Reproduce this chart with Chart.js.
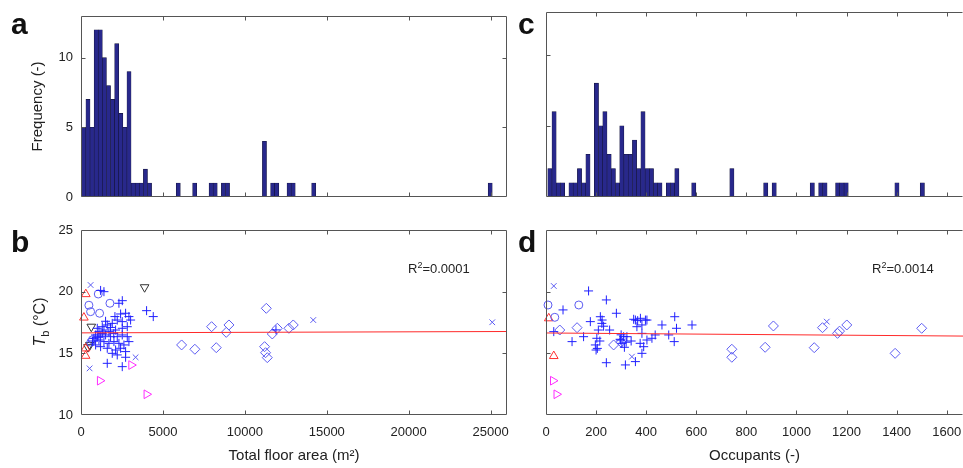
<!DOCTYPE html>
<html>
<head>
<meta charset="utf-8">
<script src="https://cdn.jsdelivr.net/npm/chart.js@4.4.1/dist/chart.umd.min.js"></script>
<style>
  body { margin: 0; background: #fff; }
  #wrap { position: relative; width: 963px; height: 468px; overflow: hidden;
          font-family: "Liberation Sans", Arial, sans-serif; color: #222; }
  #wrap canvas { position: absolute; left: 0; top: 0; }
  .letter { position: absolute; font-weight: bold; font-size: 30px; line-height: 30px; color: #111; }
  .r2 { position: absolute; font-size: 13px; line-height: 14px; white-space: nowrap; }
  .r2 sup { font-size: 9px; line-height: 0; vertical-align: 5px; }
  #tb { position: absolute; left: 40px; top: 322px; font-size: 16px; white-space: nowrap;
        transform: translate(-50%, -50%) rotate(-90deg); }
  #tb sub { font-size: 11px; line-height: 0; }
</style>
</head>
<body>
<div id="wrap">
  <canvas id="histFloor" width="963" height="468"></canvas>
  <canvas id="histOcc" width="963" height="468"></canvas>
  <canvas id="scatFloor" width="963" height="468"></canvas>
  <canvas id="scatOcc" width="963" height="468"></canvas>
  <div class="letter" style="left:11px;top:9px">a</div>
  <div class="letter" style="left:11px;top:227px">b</div>
  <div class="letter" style="left:518px;top:9px">c</div>
  <div class="letter" style="left:518px;top:227px">d</div>
  <div id="tb"><i>T</i><sub>b</sub> (°C)</div>
  <div class="r2" style="left:408px;top:262px">R<sup>2</sup>=0.0001</div>
  <div class="r2" style="left:872px;top:262px">R<sup>2</sup>=0.0014</div>
</div>
<script>
// tick labels
const floorTicks = [0, 5000, 10000, 15000, 20000, 25000];
const occTicks = [0, 200, 400, 600, 800, 1000, 1200, 1400, 1600];
const freqTicks = [0, 5, 10];
const tempTicks = [10, 15, 20, 25];

// histogram a: total floor area, 100 bins
const floorBinStart = 50;
const floorBinWidth = 250.5;
const floorCounts = [
  5, 7, 5, 12, 12, 10, 8, 7, 11, 6,
  5, 9, 1, 1, 1, 2, 1, 0, 0, 0,
  0, 0, 0, 1, 0, 0, 0, 1, 0, 0,
  0, 1, 1, 0, 1, 1, 0, 0, 0, 0,
  0, 0, 0, 0, 4, 0, 1, 1, 0, 0,
  1, 1, 0, 0, 0, 0, 1, 0, 0, 0,
  0, 0, 0, 0, 0, 0, 0, 0, 0, 0,
  0, 0, 0, 0, 0, 0, 0, 0, 0, 0,
  0, 0, 0, 0, 0, 0, 0, 0, 0, 0,
  0, 0, 0, 0, 0, 0, 0, 0, 0, 1
];

// histogram c: occupants
const occBinStart = 7;
const occBinWidth = 16.9;
const occCounts = [
  2, 6, 1, 1, 0, 1, 1, 2, 1, 3,
  0, 8, 5, 6, 3, 2, 1, 5, 3, 3,
  4, 2, 6, 2, 2, 1, 1, 0, 1, 1,
  2, 0, 0, 0, 1, 0, 0, 0, 0, 0,
  0, 0, 0, 2, 0, 0, 0, 0, 0, 0,
  0, 1, 0, 1, 0, 0, 0, 0, 0, 0,
  0, 0, 1, 0, 1, 1, 0, 0, 1, 1,
  1, 0, 0, 0, 0, 0, 0, 0, 0, 0,
  0, 0, 1, 0, 0, 0, 0, 0, 1
];

// b: floor area (m2) vs Tb (C), by marker
const floorPlus = [
  [1400, 20.0], [1196, 20.1], [2315, 19.06], [2520, 19.27], [4003, 18.46], [4410, 17.98],
  [2071, 17.98], [2417, 18.19], [2722, 18.25], [2925, 17.98], [2213, 17.7], [2518, 17.57],
  [1908, 17.43], [1603, 17.3], [1298, 17.16], [993, 17.03], [1094, 16.76], [1400, 16.89],
  [1705, 16.76], [2112, 16.89], [2518, 17.03], [2824, 17.16], [3027, 17.7], [891, 16.49],
  [1196, 16.35], [1501, 16.49], [1806, 16.35], [2213, 16.35], [2518, 16.49], [2824, 16.35],
  [2925, 15.95], [1094, 16.08], [1400, 15.95], [1705, 15.81], [2010, 15.95], [2315, 15.81],
  [2620, 15.68], [1196, 15.54], [1603, 15.41], [2112, 15.27], [2417, 15.41], [2722, 15.14],
  [891, 15.68], [789, 16.22], [1908, 15.0], [2213, 14.87], [1603, 14.19], [2518, 13.92],
  [2722, 14.68], [1300, 16.6], [1800, 17.1], [1000, 16.3], [1500, 17.6], [2000, 16.6],
  [700, 16.0], [11900, 16.9]
];
const floorCircle = [[482, 18.9], [1054, 19.81], [1766, 19.06], [586, 18.38], [1135, 18.25], [700, 16.1], [600, 15.9]];
const floorCross = [[586, 20.54], [525, 13.78], [3332, 14.68], [14175, 17.7], [25100, 17.52]];
const floorDiamond = [
  [6140, 15.68], [6950, 15.33], [7970, 17.16], [8255, 15.46], [8865, 16.7], [9030, 17.3],
  [11310, 18.65], [11205, 15.54], [11265, 15.05], [11370, 14.65], [11675, 16.57],
  [11980, 17.03], [12690, 17.03], [12955, 17.3]
];
const floorTriUp = [[293, 19.8], [177, 17.9], [281, 15.4], [281, 14.8]];
const floorTriDown = [[3882, 20.36], [628, 17.16], [546, 15.68], [424, 15.5]];
const floorTriRight = [[1155, 12.78], [3070, 14.05], [4003, 11.68]];
const floorFit = [[0, 16.66], [26000, 16.77]];

// d: occupants vs Tb (C)
const occPlus = [
  [170, 20.06], [241, 19.33], [281, 18.25], [68, 18.52], [31, 16.76], [104, 15.95],
  [177, 17.57], [217, 17.97], [223, 17.43], [209, 16.89], [203, 16.22], [197, 15.68],
  [200, 15.27], [241, 14.24], [254, 16.89], [297, 16.08], [303, 15.81], [310, 16.35],
  [317, 14.06], [357, 14.33], [357, 17.7], [377, 17.84], [397, 17.7], [363, 17.16],
  [383, 16.62], [390, 15.54], [383, 15.0], [403, 16.08], [423, 16.22], [436, 16.49],
  [463, 17.3], [490, 16.49], [514, 17.97], [521, 17.03], [512, 15.95], [583, 17.3],
  [150, 16.35], [224, 17.7], [296, 16.14], [313, 15.49], [350, 17.76], [366, 17.65],
  [383, 17.3], [403, 17.7], [376, 15.81], [323, 16.35], [215, 16.0], [230, 17.2],
  [205, 15.4], [320, 15.9], [300, 16.5], [340, 16.0]
];
const occCircle = [[8, 18.92], [131, 18.92], [35, 17.92]];
const occCross = [[31, 20.46], [343, 14.73], [1121, 17.57]];
const occDiamond = [
  [55, 16.89], [124, 17.08], [270, 15.68], [300, 15.9], [742, 15.33], [742, 14.68],
  [875, 15.49], [908, 17.22], [1071, 15.46], [1104, 17.08], [1164, 16.62], [1172, 16.8],
  [1201, 17.3], [1394, 15.0], [1500, 17.03]
];
const occTriUp = [[11, 17.84], [31, 14.78]];
const occTriRight = [[28, 12.78], [42, 11.68]];
const occFit = [[0, 16.65], [1665, 16.4]];

Chart.defaults.font.family = '"Liberation Sans", Arial, sans-serif';
Chart.defaults.font.size = 13;
Chart.defaults.color = '#222';

const barFill = '#28288c';
const barEdge = '#14143c';
const plusBlue = '#2020ff';
const lightBlue = '#5c5cf2';

// box round the axes with inward tick marks, like the original figure
const frame = {
  id: 'frame',
  afterDatasetsDraw(chart, args, opts) {
    const { ctx, chartArea: a, scales } = chart;
    const L = Math.round(a.left) + 0.5, R = Math.round(a.right) - 0.5;
    const T = Math.round(a.top) + 0.5, B = Math.round(a.bottom) - 0.5;
    const len = 4;
    ctx.save();
    ctx.strokeStyle = '#555';
    ctx.lineWidth = 1;
    ctx.beginPath();
    ctx.moveTo(R, T); ctx.lineTo(L, T); ctx.lineTo(L, B); ctx.lineTo(R, B);
    if (!opts.noRight) { ctx.moveTo(R, T); ctx.lineTo(R, B); }
    scales.x.ticks.forEach(t => {
      const p = Math.round(scales.x.getPixelForValue(t.value)) + 0.5;
      if (p < L + 2 || p > R - 2) return;
      ctx.moveTo(p, B); ctx.lineTo(p, B - len);
      ctx.moveTo(p, T); ctx.lineTo(p, T + len);
    });
    scales.y.ticks.forEach(t => {
      const p = Math.round(scales.y.getPixelForValue(t.value)) + 0.5;
      if (p < T + 2 || p > B - 2) return;
      ctx.moveTo(L, p); ctx.lineTo(L + len, p);
      if (!opts.noRight) { ctx.moveTo(R, p); ctx.lineTo(R - len, p); }
    });
    ctx.stroke();
    ctx.restore();
  }
};

const noGrid = { display: false, drawTicks: false };
const noBorder = { display: false };
const plain = v => String(v);

function fixedTicks(list) {
  return s => { s.ticks = list.map(v => ({ value: v })); };
}

// x axis of fixed height that does not shrink the plot for its end labels
function xHeight(h) {
  return s => { s.height = h; s.paddingLeft = 0; s.paddingRight = 0; };
}

function bins(start, width, counts) {
  return counts.map((c, i) => ({ x: start + (i + 0.5) * width, y: c }));
}

function marks(points, style, color, extra) {
  return Object.assign({
    data: points.map(p => ({ x: p[0], y: p[1] })),
    pointStyle: style,
    pointBorderColor: color,
    pointBackgroundColor: 'rgba(0,0,0,0)',
    pointBorderWidth: 1,
    pointRadius: 4.5,
    clip: false
  }, extra || {});
}

function fitLine(points) {
  return {
    type: 'line',
    data: points.map(p => ({ x: p[0], y: p[1] })),
    borderColor: '#ff2a2a',
    borderWidth: 1,
    pointRadius: 0
  };
}

const common = {
  responsive: false,
  animation: false,
  events: [],
  plugins: { legend: { display: false }, tooltip: { enabled: false } }
};

// a
new Chart(document.getElementById('histFloor'), {
  type: 'bar',
  data: {
    datasets: [{
      data: bins(floorBinStart, floorBinWidth, floorCounts),
      backgroundColor: barFill, borderColor: barEdge, borderWidth: 0.6,
      barPercentage: 1, categoryPercentage: 1
    }]
  },
  options: {
    ...common,
    layout: { autoPadding: false, padding: { left: 0, top: 12, right: 456, bottom: 0 } },
    plugins: { ...common.plugins, frame: {} },
    scales: {
      x: {
        type: 'linear', min: 0, max: 26000, offset: false,
        grid: noGrid, border: noBorder,
        ticks: { display: false },
        afterBuildTicks: fixedTicks(floorTicks),
        afterFit: xHeight(271)
      },
      y: {
        min: 0, max: 13, grid: noGrid, border: noBorder,
        ticks: { padding: 8, callback: plain },
        afterBuildTicks: fixedTicks(freqTicks),
        title: { display: true, text: 'Frequency (-)', font: { size: 15 }, padding: { top: 29 } },
        afterFit: s => { s.width = 81; }
      }
    }
  },
  plugins: [frame]
});

// c
new Chart(document.getElementById('histOcc'), {
  type: 'bar',
  data: {
    datasets: [{
      data: bins(occBinStart, occBinWidth, occCounts),
      backgroundColor: barFill, borderColor: barEdge, borderWidth: 0.6,
      barPercentage: 1, categoryPercentage: 1
    }]
  },
  options: {
    ...common,
    layout: { autoPadding: false, padding: { left: 500, top: 12, right: 0, bottom: 0 } },
    plugins: { ...common.plugins, frame: { noRight: true } },
    scales: {
      x: {
        type: 'linear', min: 0, max: 1665, offset: false,
        grid: noGrid, border: noBorder,
        ticks: { display: false },
        afterBuildTicks: fixedTicks(occTicks),
        afterFit: xHeight(271)
      },
      y: {
        min: 0, max: 13, grid: noGrid, border: noBorder,
        ticks: { display: false },
        afterBuildTicks: fixedTicks(freqTicks),
        afterFit: s => { s.width = 46; }
      }
    }
  },
  plugins: [frame]
});

// b
new Chart(document.getElementById('scatFloor'), {
  type: 'scatter',
  data: {
    datasets: [
      fitLine(floorFit),
      marks(floorPlus, 'cross', plusBlue),
      marks(floorCircle, 'circle', lightBlue, { pointRadius: 4 }),
      marks(floorCross, 'crossRot', lightBlue, { pointRadius: 4 }),
      marks(floorDiamond, 'rectRot', lightBlue, { pointRadius: 5 }),
      marks(floorTriUp, 'triangle', '#ff3030', { pointRadius: 5 }),
      marks(floorTriDown, 'triangle', '#333333', { pointRadius: 5, pointRotation: 180 }),
      marks(floorTriRight, 'triangle', '#ff2cff', { pointRadius: 5, pointRotation: 90 })
    ]
  },
  options: {
    ...common,
    layout: { autoPadding: false, padding: { left: 0, top: 230, right: 456, bottom: 0 } },
    plugins: { ...common.plugins, frame: {} },
    scales: {
      x: {
        type: 'linear', min: 0, max: 26000,
        grid: noGrid, border: noBorder,
        ticks: { padding: 10, callback: plain },
        afterBuildTicks: fixedTicks(floorTicks),
        title: { display: true, text: 'Total floor area (m\u00b2)', font: { size: 15 }, padding: { bottom: 3 } },
        afterFit: xHeight(53)
      },
      y: {
        min: 10, max: 25, grid: noGrid, border: noBorder,
        ticks: { padding: 8, callback: plain },
        afterBuildTicks: fixedTicks(tempTicks),
        afterFit: s => { s.width = 81; }
      }
    }
  },
  plugins: [frame]
});

// d
new Chart(document.getElementById('scatOcc'), {
  type: 'scatter',
  data: {
    datasets: [
      fitLine(occFit),
      marks(occPlus, 'cross', plusBlue),
      marks(occCircle, 'circle', lightBlue, { pointRadius: 4 }),
      marks(occCross, 'crossRot', lightBlue, { pointRadius: 4 }),
      marks(occDiamond, 'rectRot', lightBlue, { pointRadius: 5 }),
      marks(occTriUp, 'triangle', '#ff3030', { pointRadius: 5 }),
      marks(occTriRight, 'triangle', '#ff2cff', { pointRadius: 5, pointRotation: 90 })
    ]
  },
  options: {
    ...common,
    layout: { autoPadding: false, padding: { left: 500, top: 230, right: 0, bottom: 0 } },
    plugins: { ...common.plugins, frame: { noRight: true } },
    scales: {
      x: {
        type: 'linear', min: 0, max: 1665,
        grid: noGrid, border: noBorder,
        ticks: { padding: 10, callback: plain },
        afterBuildTicks: fixedTicks(occTicks),
        title: { display: true, text: 'Occupants (-)', font: { size: 15 }, padding: { bottom: 3 } },
        afterFit: xHeight(53)
      },
      y: {
        min: 10, max: 25, grid: noGrid, border: noBorder,
        ticks: { display: false },
        afterBuildTicks: fixedTicks(tempTicks),
        afterFit: s => { s.width = 46; }
      }
    }
  },
  plugins: [frame]
});
</script>
</body>
</html>
